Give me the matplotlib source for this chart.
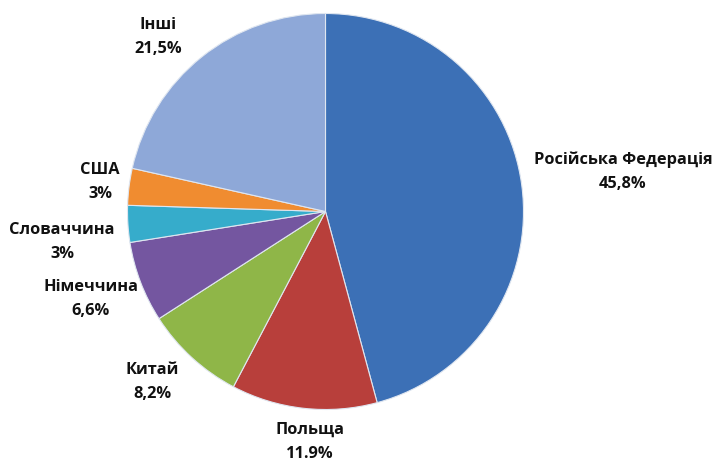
import matplotlib.pyplot as plt

# export shares by country
countries = ['Російська Федерація', 'Польща', 'Китай', 'Німеччина',
             'Словаччина', 'США', 'Інші']
shares = [45.8, 11.9, 8.2, 6.6, 3.0, 3.0, 21.5]
share_labels = ['45,8%', '11.9%', '8,2%', '6,6%', '3%', '3%', '21,5%']

colors = ['#3C70B6', '#B83F3B', '#8FB648', '#7456A0', '#36ACCB',
          '#F08C30', '#8EA8D8']

# label anchor positions in pixels (x from left, y from top)
label_pos = [(623, 172), (310, 442), (152, 382), (91, 299),
             (62, 242), (100, 182), (158, 37)]

W, H = 717, 461
fig = plt.figure(figsize=(W / 100, H / 100), dpi=100)
ax = fig.add_axes([0, 0, 1, 1])

cx, cy, r = 325.5, 211.5, 198
ax.pie(shares, colors=colors, startangle=90, counterclock=False,
       center=(cx, H - cy), radius=r, frame=True,
       wedgeprops=dict(edgecolor='#dfe6f0', linewidth=0.8))

for name, lab, (x, y) in zip(countries, share_labels, label_pos):
    ax.text(x, H - y, name + '\n' + lab, ha='center', va='center',
            fontsize=11.8, fontweight='bold', family='Open Sans',
            color='#111111', linespacing=1.65)

ax.set_xlim(0, W)
ax.set_ylim(0, H)
ax.set_aspect('equal')
ax.axis('off')

fig.savefig('out.png', dpi=100)
